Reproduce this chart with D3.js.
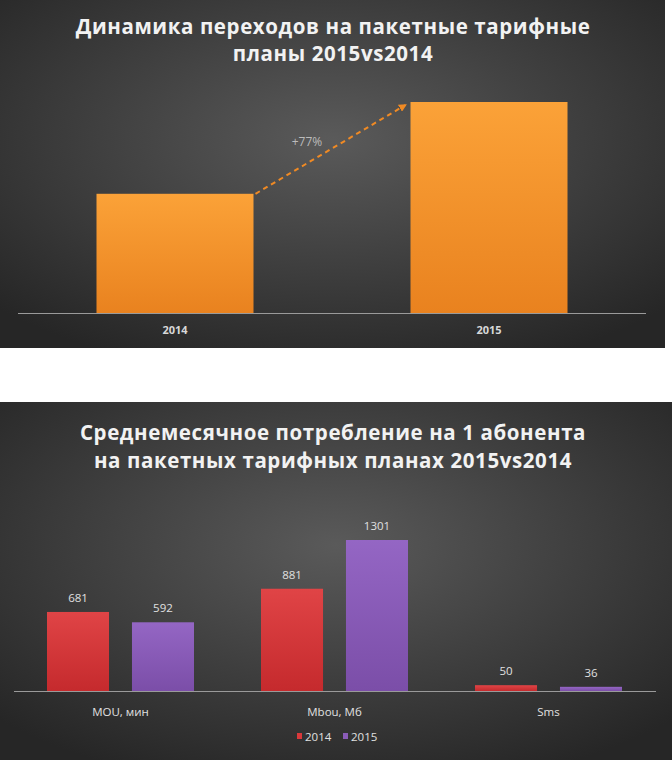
<!DOCTYPE html>
<html><head><meta charset="utf-8">
<script src="https://cdn.jsdelivr.net/npm/d3@7"></script>
<style>body{margin:0;background:#fff}svg{display:block}text{font-family:"Open Sans",sans-serif}</style>
</head><body><svg id="c" width="672" height="760"></svg>
<script>
const topYears = ["2014","2015"];
const topValues = [100,177];
const topTitle = ["Динамика переходов на пакетные тарифные","планы 2015vs2014"];
const growthLabel = "+77%";
const categories = ["MOU, мин","Mbou, Мб","Sms"];
const series2014 = [681,881,50];
const series2015 = [592,1301,36];
const seriesNames = ["2014","2015"];
const bottomTitle = ["Среднемесячное потребление на 1 абонента","на пакетных тарифных планах 2015vs2014"];

const svg = d3.select("#c");
const defs = svg.append("defs");
const bg = defs.append("radialGradient").attr("id","bg").attr("cx","50%").attr("cy","40%").attr("r","70%");
bg.append("stop").attr("offset","0%").attr("stop-color","#5a5a5a");
bg.append("stop").attr("offset","100%").attr("stop-color","#262626");
function lg(id,c1,c2){const g=defs.append("linearGradient").attr("id",id).attr("x1",0).attr("y1",0).attr("x2",0).attr("y2",1);
g.append("stop").attr("offset","0%").attr("stop-color",c1);g.append("stop").attr("offset","100%").attr("stop-color",c2);}
lg("or","#fba238","#e9821f");lg("rd","#e04446","#c52a2d");lg("pu","#9466c4","#7b4ea8");
defs.append("marker").attr("id","ah").attr("viewBox","0 0 10 10").attr("refX",8).attr("refY",5)
 .attr("markerWidth",4).attr("markerHeight",4).attr("orient","auto")
 .append("path").attr("d","M0,0L10,5L0,10z").attr("fill","#f08a24");

// top panel
svg.append("rect").attr("x",0).attr("y",0).attr("width",665).attr("height",348).attr("fill","url(#bg)");
svg.append("text").attr("text-anchor","middle").attr("fill","#f2f2f2")
 .attr("font-size",20.5).attr("font-weight","bold").attr("letter-spacing",0.6).selectAll("tspan").data(topTitle).join("tspan")
 .attr("x",333).attr("y",(d,i)=>34+i*27).text(d=>d);
const x1 = d3.scaleBand().domain(topYears).range([18,646]).paddingInner(0.5).paddingOuter(0.25);
const y1 = d3.scaleLinear().domain([0,177]).range([313,102]);
svg.selectAll(".tb").data(topValues).join("rect").attr("x",(d,i)=>x1(topYears[i])).attr("width",x1.bandwidth())
 .attr("y",d=>y1(d)).attr("height",d=>313-y1(d)).attr("fill","url(#or)");
svg.append("line").attr("x1",18).attr("x2",646).attr("y1",313.5).attr("y2",313.5).attr("stroke","#9a9a9a").attr("stroke-width",1.2);
svg.selectAll(".tl").data(topYears).join("text").attr("x",d=>x1(d)+x1.bandwidth()/2).attr("y",334)
 .attr("text-anchor","middle").attr("fill","#d8d8d8").attr("font-size",11).attr("font-weight","bold").text(d=>d);
svg.append("line").attr("x1",x1("2014")+x1.bandwidth()+2).attr("y1",y1(topValues[0]))
 .attr("x2",x1("2015")-5).attr("y2",y1(topValues[1])+3).attr("stroke","#f08a24").attr("stroke-width",2)
 .attr("stroke-dasharray","5,4").attr("marker-end","url(#ah)");
svg.append("text").attr("x",307).attr("y",146).attr("text-anchor","middle").attr("fill","#bbb").attr("font-size",12).text(growthLabel);

// bottom panel
svg.append("rect").attr("x",0).attr("y",402).attr("width",672).attr("height",358).attr("fill","url(#bg)");
svg.append("text").attr("text-anchor","middle").attr("fill","#f2f2f2").attr("font-size",20.5).attr("font-weight","bold").attr("letter-spacing",0.6)
 .selectAll("tspan").data(bottomTitle).join("tspan").attr("x",333).attr("y",(d,i)=>440+i*28).text(d=>d);
const base=691;
const x2 = d3.scaleBand().domain(categories).range([14,656]).paddingInner(0).paddingOuter(0);
const xs = d3.scaleBand().domain(seriesNames).range([33,180]).paddingInner(0.27);
const y2 = d3.scaleLinear().domain([0,1301]).range([base,540]);
const rows = categories.map((c,i)=>[{s:"2014",v:series2014[i],c},{s:"2015",v:series2015[i],c}]).flat();
const g2 = svg.append("g");
g2.selectAll("rect").data(rows).join("rect").attr("x",d=>x2(d.c)+xs(d.s)).attr("width",xs.bandwidth())
 .attr("y",d=>y2(d.v)).attr("height",d=>base-y2(d.v)).attr("fill",d=>d.s==="2014"?"url(#rd)":"url(#pu)");
g2.selectAll("text").data(rows).join("text").attr("x",d=>x2(d.c)+xs(d.s)+xs.bandwidth()/2).attr("y",d=>y2(d.v)-10)
 .attr("text-anchor","middle").attr("fill","#e0e0e0").attr("font-size",11.5).text(d=>d.v);
svg.append("line").attr("x1",14).attr("x2",656).attr("y1",base+0.5).attr("y2",base+0.5).attr("stroke","#9a9a9a").attr("stroke-width",1.2);
svg.selectAll(".bl").data(categories).join("text").attr("x",d=>x2(d)+xs.range()[0]+ (xs.range()[1]-xs.range()[0])/2).attr("y",716)
 .attr("text-anchor","middle").attr("fill","#e0e0e0").attr("font-size",11.5).text(d=>d);
const leg = svg.append("g").selectAll("g").data(seriesNames).join("g").attr("transform",(d,i)=>`translate(${297+i*46},741)`);
leg.append("rect").attr("x",0).attr("y",-8).attr("width",5).attr("height",6).attr("fill",(d,i)=>i?"#8a5cb8":"#d9393b");
leg.append("text").attr("x",8).attr("y",0).attr("fill","#e0e0e0").attr("font-size",11.5).text(d=>d);
</script></body></html>
